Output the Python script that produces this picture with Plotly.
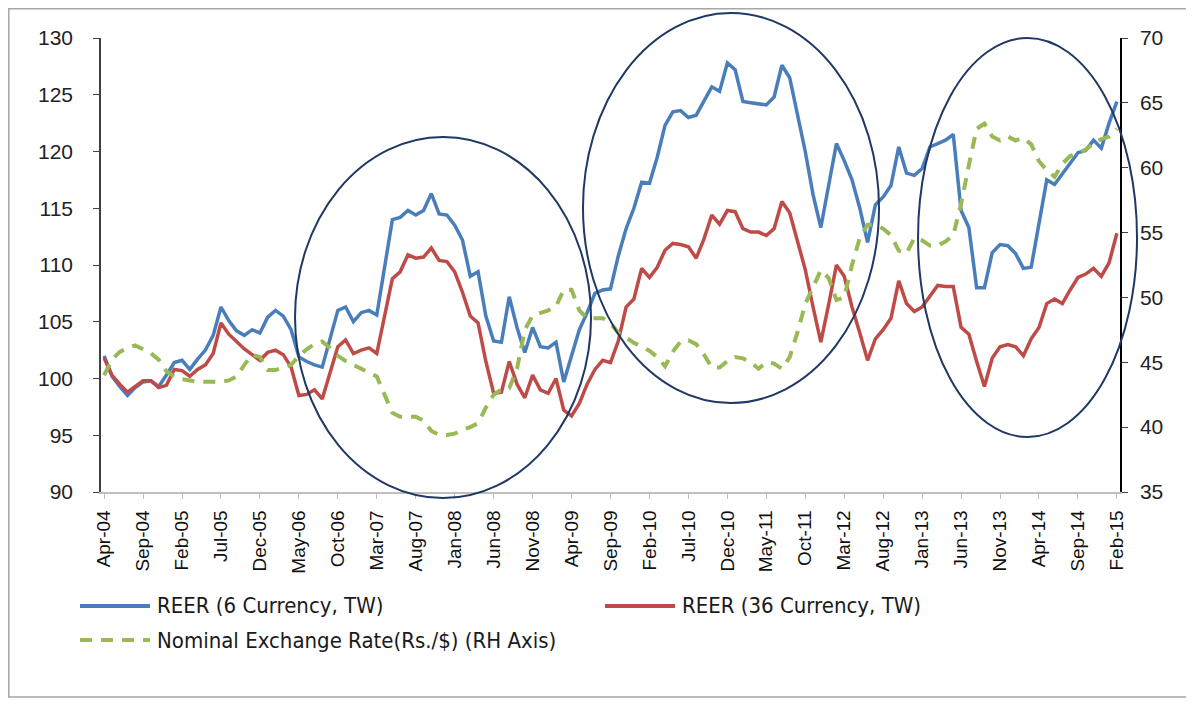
import plotly.graph_objects as go

# Monthly series, Apr-04 .. Feb-15 (131 months)
months = list(range(131))

tick_labels = ["Apr-04", "Sep-04", "Feb-05", "Jul-05", "Dec-05", "May-06", "Oct-06",
               "Mar-07", "Aug-07", "Jan-08", "Jun-08", "Nov-08", "Apr-09", "Sep-09",
               "Feb-10", "Jul-10", "Dec-10", "May-11", "Oct-11", "Mar-12", "Aug-12",
               "Jan-13", "Jun-13", "Nov-13", "Apr-14", "Sep-14", "Feb-15"]

reer_6 = [
    102.0, 100.2, 99.3, 98.5, 99.2, 99.7, 99.8, 99.3, 100.3, 101.4,
    101.6, 100.8, 101.7, 102.5, 103.8, 106.3, 105.1, 104.2, 103.8, 104.3,
    104.0, 105.4, 106.0, 105.5, 104.3, 101.9, 101.5, 101.2, 101.0, 103.5,
    106.0, 106.3, 105.0, 105.8, 106.0, 105.6, 110.0, 114.0, 114.2, 114.8,
    114.4, 114.8, 116.3, 114.5, 114.4, 113.5, 112.2, 109.0, 109.4, 105.5,
    103.3, 103.2, 107.2, 104.5, 102.3, 104.5, 102.8, 102.7, 103.2, 99.7,
    102.0, 104.3, 105.8, 107.5, 107.8, 107.9, 110.8, 113.2, 115.0, 117.3,
    117.2, 119.5, 122.3, 123.5, 123.6, 123.0, 123.2, 124.5, 125.7, 125.3,
    127.8, 127.2, 124.4, 124.3, 124.2, 124.1, 124.8, 127.6, 126.5, 123.4,
    120.0, 116.2, 113.3, 117.0, 120.7, 119.2, 117.5, 115.0, 112.0, 115.3,
    116.0, 117.0, 120.4, 118.1, 117.9, 118.5, 120.4, 120.7, 121.0, 121.5,
    114.8, 113.3, 108.0, 108.0, 111.1, 111.8, 111.7, 111.0, 109.7, 109.8,
    113.5, 117.5, 117.1, 118.0, 118.9, 119.9, 120.1, 121.0, 120.3, 122.5,
    124.4]

reer_36 = [
    101.8, 100.3, 99.5, 98.8, 99.3, 99.8, 99.8, 99.2, 99.4, 100.8,
    100.7, 100.2, 100.8, 101.2, 102.2, 104.9, 103.9, 103.2, 102.6, 102.1,
    101.6, 102.3, 102.5, 102.1, 101.0, 98.5, 98.6, 99.0, 98.2, 100.5,
    102.8, 103.4, 102.2, 102.5, 102.7, 102.2, 105.5, 108.8, 109.4, 110.9,
    110.6, 110.7, 111.5, 110.4, 110.3, 109.4, 107.6, 105.5, 104.9, 101.5,
    98.7, 98.8, 101.5, 99.5, 98.3, 100.3, 99.0, 98.7, 100.0, 97.2,
    96.7, 97.8, 99.5, 100.8, 101.6, 101.4, 103.3, 106.3, 107.0, 109.7,
    108.9, 109.8, 111.3, 111.9, 111.8, 111.6, 110.6, 112.3, 114.4, 113.6,
    114.8, 114.7, 113.2, 112.9, 112.9, 112.6, 113.2, 115.6, 114.6, 112.2,
    109.6, 106.3, 103.2, 106.5, 110.0, 109.0, 106.3, 104.0, 101.6, 103.5,
    104.3, 105.3, 108.6, 106.6, 105.9, 106.3, 107.2, 108.2, 108.1, 108.1,
    104.5, 103.9, 101.5, 99.3, 101.8, 102.8, 103.0, 102.8, 102.0, 103.5,
    104.5, 106.6, 107.0, 106.6, 107.8, 108.9, 109.2, 109.7, 109.0, 110.2,
    112.8]

nominal_rate = [
    44.0, 45.2, 45.8, 46.1, 46.3, 46.0, 45.7, 45.2, 44.3, 43.9,
    43.7, 43.6, 43.5, 43.5, 43.5, 43.5, 43.6, 43.9, 44.8, 45.6,
    45.4, 44.4, 44.4, 44.6, 44.8, 45.5, 46.0, 46.4, 46.6, 46.1,
    45.5, 45.1, 44.8, 44.5, 44.2, 43.9, 42.5, 41.1, 40.8, 40.8,
    40.8, 40.5, 39.7, 39.4, 39.4, 39.5, 39.8, 40.0, 40.3, 41.5,
    42.5, 42.9, 43.0, 44.5, 47.5, 48.6, 48.8, 49.0, 49.3, 50.6,
    50.6, 49.0, 48.4, 48.4, 48.4, 48.0, 47.3, 46.9, 46.5, 46.2,
    45.9, 45.4, 44.7, 45.8, 46.6, 46.7, 46.4, 45.6, 44.6, 44.6,
    45.1, 45.4, 45.3, 45.0, 44.5, 45.0, 44.9, 44.5, 45.4, 47.3,
    49.5, 50.8, 52.1, 51.5, 49.8, 50.0, 52.5, 54.6, 55.6, 55.6,
    55.3, 54.8, 53.6, 53.4, 54.6, 54.4, 54.0, 54.0, 54.3, 54.8,
    57.2, 60.2, 63.0, 63.4, 62.4, 62.1, 62.4, 62.1, 62.3, 61.8,
    60.5, 59.8, 59.3, 60.3, 60.9, 61.1, 61.4, 61.9, 62.2, 62.4,
    63.0]

names = ["REER (6 Currency, TW)", "REER (36 Currency, TW)", "Nominal Exchange Rate(Rs./$) (RH Axis)"]
colors = ["#4A7EBB", "#BE4B48", "#98B954"]
green_dash = "12px,9px"

fig = go.Figure()
fig.add_trace(go.Scatter(x=months, y=reer_6, name=names[0], mode="lines",
                         line=dict(color=colors[0], width=3.5)))
fig.add_trace(go.Scatter(x=months, y=reer_36, name=names[1], mode="lines",
                         line=dict(color=colors[1], width=3.5)))
fig.add_trace(go.Scatter(x=months, y=nominal_rate, name=names[2], mode="lines", yaxis="y2",
                         line=dict(color=colors[2], width=4, dash=green_dash)))

# circles highlighting the three episodes (paper coords so they are not clipped)
for x0, x1, y0, y1 in [(0.1904, 0.4809, -0.0132, 0.782),
                       (0.473, 0.7635, 0.196, 1.055),
                       (0.8018, 1.0167, 0.1211, 1.0)]:
    fig.add_shape(type="circle", xref="paper", yref="paper", x0=x0, x1=x1, y0=y0, y1=y1,
                  line=dict(color="#1F3864", width=2), layer="above")

# outer frame
fig.add_shape(type="rect", xref="paper", yref="paper", x0=-0.0905, x1=1.0687, y0=-0.4515, y1=1.0644,
              line=dict(color="#A6A6A6", width=1.5))

# hand-built legend, laid out like the Excel one
legend_font = dict(family="DejaVu Sans Condensed, Roboto, sans-serif", size=22, color="#1a1a1a")
legend_items = [(-0.0206, -0.2511, 0), (0.4946, -0.2511, 1), (-0.0206, -0.326, 2)]
for lx, ly, k in legend_items:
    fig.add_shape(type="line", xref="paper", yref="paper", x0=lx, x1=lx + 0.0687, y0=ly, y1=ly,
                  line=dict(color=colors[k], width=4, dash=green_dash if k == 2 else "solid"))
    fig.add_annotation(xref="paper", yref="paper", x=lx + 0.0736, y=ly, text=names[k],
                       showarrow=False, xanchor="left", yanchor="middle", font=legend_font)

tick_font = dict(family="Liberation Sans", size=21, color="#222222")

fig.update_layout(
    width=1194, height=702,
    margin=dict(l=93, r=82, t=30, b=218),
    plot_bgcolor="white", paper_bgcolor="white",
    showlegend=False,
    xaxis=dict(range=[-0.4, 130.4], tickmode="array",
               tickvals=months[::5], ticktext=tick_labels, tickangle=-90,
               tickfont=dict(family="Liberation Sans", size=19, color="#111111"),
               showgrid=False, zeroline=False, showline=True, linecolor="#BFBFBF", linewidth=1.5,
               ticks="outside", ticklen=5, tickcolor="#BFBFBF", ticklabelstandoff=4),
    yaxis=dict(range=[90, 130], dtick=5, tickfont=tick_font, showgrid=False, zeroline=False,
               showline=True, linecolor="#404040", linewidth=1.5,
               ticks="outside", ticklen=6, tickcolor="#404040", ticklabelstandoff=16),
    yaxis2=dict(range=[35, 70], dtick=5, overlaying="y", side="right", tickfont=tick_font,
                showgrid=False, zeroline=False, showline=True, linecolor="#000000", linewidth=1.5,
                ticks="outside", ticklen=6, tickcolor="#404040", ticklabelstandoff=8),
)

fig.write_html("out.html")
